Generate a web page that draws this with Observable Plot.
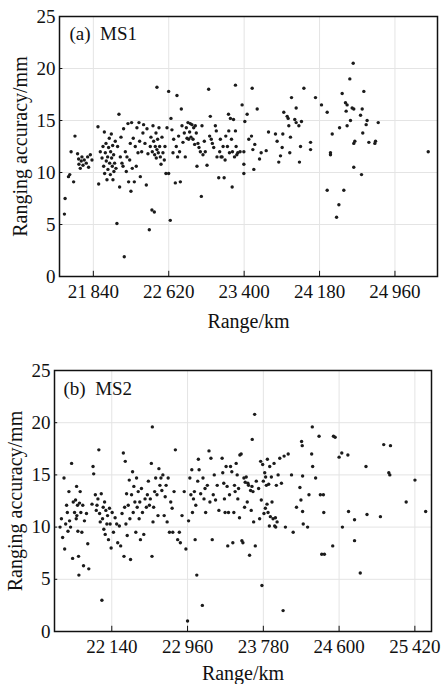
<!DOCTYPE html>
<html><head><meta charset="utf-8">
<script src="https://cdn.jsdelivr.net/npm/d3@7"></script>
<script src="https://cdn.jsdelivr.net/npm/@observablehq/plot@0.6"></script>
<style>
body{margin:0;background:#fff}
svg{display:block}
svg, svg text, svg g{font-family:"Liberation Serif","Times New Roman",Times,serif !important}
</style>
</head><body><div id="chart"></div>
<script>
// Panel (a) MS1: [range km, ranging accuracy mm]
const ms1Points = [
[21541,6.0],[21548,7.5],[21583,9.6],[21596,9.8],[21610,12.0],[21636,9.1],[21650,13.5],[21677,11.8],[21688,11.3],[21691,10.8],
[21705,10.4],[21715,11.1],[21722,11.5],[21733,10.7],[21746,11.2],[21767,10.9],[21781,11.5],[21791,10.5],[21809,11.7],[21826,11.2],
[21888,14.4],[21895,8.9],[21912,12.0],[21930,11.4],[21940,12.5],[21947,10.6],[21954,13.9],[21957,9.9],[21964,11.9],[21971,12.8],
[21974,11.1],[21981,9.3],[21988,11.5],[21991,10.3],[21998,12.4],[22005,13.3],[22009,10.9],[22016,9.8],[22019,12.0],[22026,13.7],
[22029,11.4],[22036,10.6],[22040,12.6],[22043,9.3],[22050,11.7],[22053,10.1],[22060,10.9],[22067,13.0],[22074,10.4],[22084,5.1],
[22091,12.5],[22105,15.6],[22112,8.6],[22119,11.5],[22126,13.4],[22136,10.9],[22147,10.6],[22153,14.2],[22160,1.9],[22171,12.0],
[22181,10.1],[22188,11.5],[22198,14.7],[22205,9.1],[22216,11.2],[22222,12.8],[22229,8.2],[22236,14.8],[22243,10.4],[22253,13.3],
[22264,9.1],[22274,12.5],[22284,10.6],[22291,14.3],[22302,11.9],[22312,14.8],[22319,13.0],[22326,9.6],[22340,12.0],[22353,13.8],
[22360,14.6],[22374,12.8],[22388,8.8],[22395,14.2],[22405,11.8],[22419,4.5],[22429,12.5],[22436,13.4],[22446,6.4],[22450,12.0],
[22457,14.5],[22464,13.0],[22471,6.2],[22474,11.7],[22481,12.5],[22488,13.8],[22491,11.4],[22498,18.2],[22498,12.2],[22505,13.2],
[22512,11.9],[22519,14.3],[22526,12.5],[22533,11.5],[22540,10.8],[22550,13.4],[22560,11.9],[22574,11.2],[22581,12.5],[22591,9.9],
[22602,14.3],[22619,17.8],[22619,9.9],[22636,5.4],[22643,15.2],[22653,14.1],[22664,11.9],[22671,13.2],[22688,9.0],[22698,12.5],
[22705,17.4],[22712,11.5],[22722,13.5],[22732,12.0],[22740,9.1],[22750,16.1],[22757,14.5],[22767,12.9],[22781,13.8],[22791,11.5],
[22802,14.3],[22809,13.3],[22819,14.8],[22826,13.2],[22836,13.9],[22843,14.7],[22850,13.4],[22860,14.6],[22871,13.2],[22878,14.3],
[22888,12.7],[22895,14.5],[22905,13.8],[22912,10.6],[22922,12.8],[22933,12.4],[22947,12.0],[22957,7.7],[22964,14.5],[22974,11.7],
[22988,13.0],[22998,12.0],[23016,10.7],[23033,18.0],[23043,13.5],[23050,15.4],[23060,13.2],[23071,12.8],[23085,12.4],[23102,14.5],
[23112,14.0],[23119,11.5],[23137,9.5],[23147,12.0],[23154,13.2],[23161,11.5],
[23172,11.5],[23182,12.5],[23193,9.5],[23203,11.2],[23210,13.5],[23227,12.5],[23238,15.6],[23241,14.0],[23248,11.9],[23258,15.2],
[23269,13.2],[23276,8.6],[23279,12.0],[23290,15.1],[23300,11.5],[23310,18.4],[23310,14.0],[23317,12.5],[23324,11.7],[23334,11.9],
[23358,12.0],[23379,16.5],[23397,12.0],[23397,10.8],[23397,9.9],[23407,14.9],[23431,15.6],[23448,13.2],[23476,13.5],[23483,18.1],
[23490,12.2],[23500,10.3],[23510,12.7],[23535,16.1],[23559,11.3],[23576,11.9],[23628,12.1],[23652,13.9],[23724,13.7],[23741,13.0],
[23758,11.0],[23776,11.6],[23793,12.4],[23800,13.7],[23810,15.8],[23845,15.4],[23855,15.2],[23862,14.5],[23872,11.9],[23879,13.4],
[23890,17.2],[23924,15.1],[23938,16.2],[23938,14.8],[23966,14.5],[23972,11.0],[23983,12.5],[23993,14.9],[24018,18.1],[24087,12.9],
[24087,12.2],[24138,17.2],[24200,16.5],[24259,15.8],[24259,8.3],[24293,11.9],[24293,11.7],[24311,13.7],[24356,5.7],[24380,6.9],
[24387,14.3],[24414,17.6],[24431,8.3],[24448,16.7],[24465,16.5],[24455,15.9],[24465,14.5],[24493,19.0],[24500,15.0],[24517,16.2],
[24528,20.5],[24534,16.1],[24534,12.8],[24545,13.0],[24534,10.5],[24604,15.5],[24614,9.8],[24621,16.1],[24627,13.8],[24638,17.8],
[24662,14.6],[24672,15.0],[24690,12.9],[24752,12.8],[24759,13.0],[24787,14.8],[25304,12.0]
];

// Panel (b) MS2: [range km, ranging accuracy mm]
const ms2Points = [
[21580,10.0],[21595,10.8],[21608,9.0],[21623,14.7],[21630,7.9],[21641,10.3],[21651,12.1],[21659,11.4],[21666,9.6],[21676,13.4],
[21683,10.6],[21694,10.0],[21705,16.1],[21716,7.0],[21723,12.4],[21737,11.4],[21748,12.6],[21755,10.8],[21759,13.9],[21762,11.1],
[21769,12.1],[21773,9.6],[21780,7.2],[21784,5.4],[21791,12.3],[21798,13.4],[21805,11.4],[21816,9.5],[21826,12.1],[21834,6.3],
[21844,10.6],[21866,11.3],[21880,8.4],[21891,6.0],[21926,12.2],[21937,15.8],[21944,15.1],[21962,13.1],[21972,11.6],[21980,12.1],
[21990,12.7],[22000,17.4],[22008,11.3],[22015,10.5],[22026,13.2],[22033,3.0],[22040,10.8],[22047,11.9],[22054,9.8],[22062,12.4],
[22069,9.3],[22076,11.6],[22087,10.3],[22094,11.1],[22104,8.8],[22115,11.8],[22122,10.3],[22133,8.0],[22144,11.4],[22158,9.5],
[22176,10.9],[22193,10.3],[22204,8.5],[22222,10.1],[22236,8.2],[22251,11.3],[22265,17.1],[22272,7.2],[22279,11.9],[22286,16.3],
[22293,10.3],[22300,13.2],[22307,9.2],[22318,12.1],[22329,14.5],[22336,10.8],[22343,6.9],[22354,13.1],[22365,15.3],[22372,11.4],
[22379,13.9],[22390,12.4],[22400,9.5],[22408,14.7],[22415,11.9],[22426,13.4],[22436,10.8],[22443,12.4],[22450,8.8],[22461,13.7],
[22472,11.4],[22486,9.3],[22500,12.7],[22514,11.9],[22525,13.1],[22536,14.4],[22547,12.1],[22557,12.7],[22568,16.1],[22575,7.2],
[22579,19.6],[22586,10.5],[22593,11.9],[22604,13.4],[22615,14.7],[22629,13.1],[22640,11.1],[22650,15.6],[22661,14.0],[22672,14.7],
[22682,13.5],[22693,15.0],[22707,11.1],[22718,12.9],[22728,14.0],[22739,10.5],[22750,14.7],[22764,9.5],[22778,12.4],[22793,11.8],
[22800,9.5],[22814,13.4],[22828,17.4],[22853,8.8],[22871,9.5],[22882,8.5],[22900,11.1],[22924,13.4],[22942,7.9],[22960,1.0],
[22971,10.6],[22985,14.7],[22996,13.1],[23006,15.5],[23013,11.4],[23024,12.7],[23034,13.4],[23042,8.8],[23049,12.1],[23060,5.4],
[23070,14.4],[23077,16.5],[23085,15.5],[23102,13.2],[23120,2.5],[23127,14.7],[23138,12.7],[23149,13.7],[23156,11.4],[23174,14.0],
[23192,17.3],[23202,12.4],[23213,16.6],[23227,8.8],[23238,13.1],[23249,15.0],[23263,12.6],[23281,14.0],[23299,11.6],
[23334,16.6],[23341,15.2],[23352,14.2],[23359,12.7],[23366,11.4],[23377,15.8],[23388,13.9],[23395,8.2],[23403,11.4],[23414,13.1],
[23425,15.8],[23439,15.3],[23450,8.5],[23461,11.4],[23468,14.0],[23475,13.4],[23486,16.1],[23497,15.0],[23504,12.7],[23512,13.7],
[23522,10.9],[23526,16.9],[23540,17.0],[23548,8.7],[23559,8.5],[23570,14.7],[23577,11.9],[23584,14.3],[23595,14.8],[23606,12.4],
[23613,14.2],[23620,14.0],[23631,7.3],[23642,13.5],[23649,11.6],[23657,13.9],[23660,18.4],[23668,13.4],[23675,10.5],[23686,20.8],
[23693,8.2],[23704,14.4],[23729,13.7],[23740,10.8],[23751,16.3],[23758,12.6],[23765,4.4],[23773,16.0],[23780,14.4],[23787,11.3],
[23795,15.2],[23802,11.8],[23805,14.8],[23813,14.0],[23820,12.2],[23824,16.5],[23831,11.4],[23838,14.1],[23845,10.1],[23849,15.8],
[23856,11.0],[23867,14.8],[23874,12.4],[23885,10.8],[23896,16.1],[23903,10.1],[23911,10.9],[23914,10.0],[23921,14.0],[23929,10.5],
[23940,15.0],[23958,16.6],[23976,14.2],[23994,2.0],[24005,16.8],[24019,10.0],[24049,17.0],[24085,15.0],[24103,9.5],[24139,11.9],
[24176,13.8],[24187,12.6],[24194,18.2],[24201,17.8],[24205,14.9],[24205,11.5],[24212,10.3],[24259,10.0],[24274,13.1],[24303,17.0],
[24310,19.6],[24314,15.8],[24346,14.7],[24383,18.7],[24397,13.1],[24412,7.4],[24430,13.1],[24441,7.4],[24434,11.4],[24531,8.2],
[24539,18.7],[24557,18.6],[24600,16.7],[24629,17.1],[24636,10.0],[24695,16.9],[24702,11.5],[24767,10.7],[24767,8.7],[24829,5.6],
[24891,15.8],[24902,11.2],[25047,11.0],[25083,17.9],[25156,17.8],[25138,15.2],[25149,15.0],[25326,12.4],[25421,14.5],[25537,11.5]
];

const yTicks = [0, 5, 10, 15, 20, 25];
const ms1XTicks = [21840, 22620, 23400, 24180, 24960];
const ms2XTicks = [22140, 22960, 23780, 24600, 25420];
const ms1XDomain = [21490, 25400];
const ms2XDomain = [21520, 25600];
const xLabel = "Range/km";
const yLabel = "Ranging accuracy/mm";
const ms1Label = "(a)\u00a0\u00a0MS1";
const ms2Label = "(b)\u00a0\u00a0MS2";

const FONT = "Liberation Serif";
const fmtKm = d => Math.floor(d / 1000) + "\u2009" + String(d % 1000).padStart(3, "0");

function panel({points, xDomain, xTicks, label, height, marginTop, marginBottom, marginLeft, marginRight, xLabelDy, yLabelDx, labelDx, labelDy}) {
  return Plot.plot({
    width: 444, height, marginTop, marginBottom, marginLeft, marginRight,
    style: {fontFamily: FONT, fontSize: "19px", color: "#111", background: "#fff", overflow: "visible"},
    x: {domain: xDomain},
    y: {domain: [0, 25]},
    marks: [
      Plot.gridX(xTicks, {stroke: "#e4e4e4", strokeOpacity: 1, strokeWidth: 1}),
      Plot.gridY(yTicks, {stroke: "#e4e4e4", strokeOpacity: 1, strokeWidth: 1}),
      Plot.ruleX(xTicks, {x: d => d, y1: 0, y2: 0.5, stroke: "#111", strokeWidth: 1}),
      Plot.ruleY(yTicks, {y: d => d, x1: xDomain[0], x2: xDomain[0] + 35, stroke: "#111", strokeWidth: 1}),
      Plot.dot(points, {x: d => d[0], y: d => d[1], r: 1.7, fill: "#1b1b1b", stroke: null}),
      Plot.frame({stroke: "#111", strokeWidth: 1.5}),
      Plot.axisX(xTicks, {tickSize: 0, tickPadding: 8, tickFormat: fmtKm, label: null, fontSize: 19, fill: "#111", fontFamily: FONT}),
      Plot.axisY(yTicks, {tickSize: 0, tickPadding: 4, label: null, fontSize: 19, fill: "#111", fontFamily: FONT}),
      Plot.text([xLabel], {text: d => d, frameAnchor: "bottom", dy: xLabelDy, fontSize: 20, lineAnchor: "middle", fill: "#111", fontFamily: FONT}),
      Plot.text([yLabel], {text: d => d, frameAnchor: "left", dx: yLabelDx, rotate: -90, fontSize: 20, textAnchor: "middle", lineAnchor: "middle", fill: "#111", fontFamily: FONT}),
      Plot.text([label], {text: d => d, frameAnchor: "top-left", dx: labelDx, dy: labelDy, fontSize: 19, textAnchor: "start", lineAnchor: "middle", fill: "#111", fontFamily: FONT})
    ]
  });
}

const chart = document.getElementById("chart");
chart.append(panel({points: ms1Points, xDomain: ms1XDomain, xTicks: ms1XTicks, label: ms1Label,
  height: 335, marginTop: 16, marginBottom: 59, marginLeft: 59, marginRight: 7,
  xLabelDy: 45, yLabelDx: -39, labelDx: 10, labelDy: 17}));
chart.append(panel({points: ms2Points, xDomain: ms2XDomain, xTicks: ms2XTicks, label: ms2Label,
  height: 349, marginTop: 35, marginBottom: 53, marginLeft: 54, marginRight: 13,
  xLabelDy: 42, yLabelDx: -39, labelDx: 9, labelDy: 18}));
</script></body></html>
